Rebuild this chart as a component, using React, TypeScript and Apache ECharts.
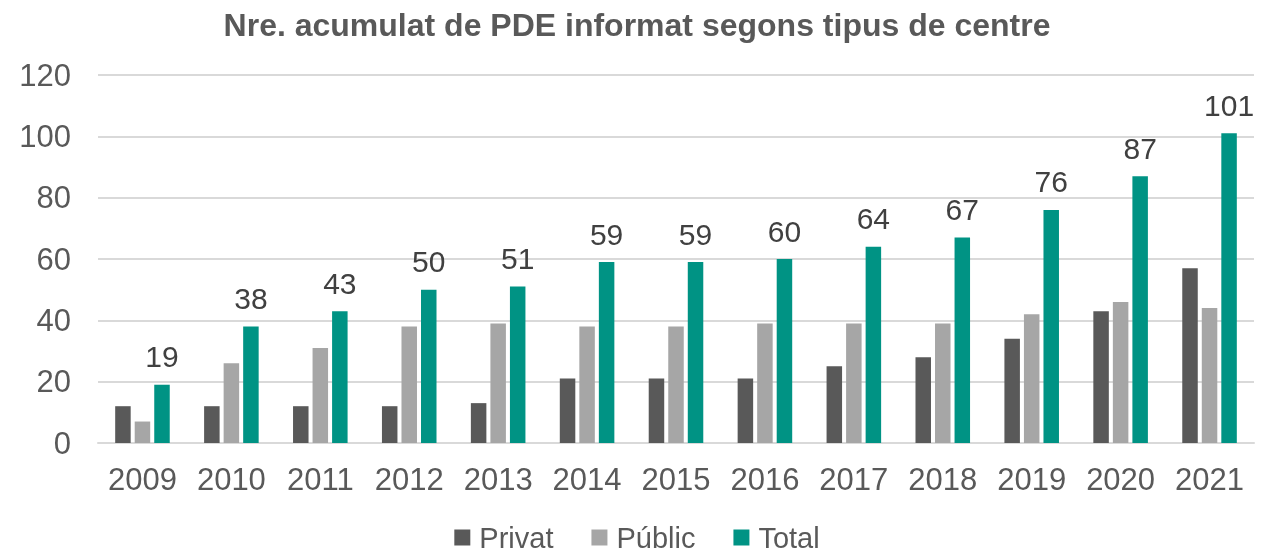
import React, { useEffect, useRef } from "react";
import * as echarts from "echarts";

const years = ["2009","2010","2011","2012","2013","2014","2015","2016","2017","2018","2019","2020","2021"];
const privat = [12, 12, 12, 12, 13, 21, 21, 21, 25, 28, 34, 43, 57];
const public_ = [7, 26, 31, 38, 39, 38, 38, 39, 39, 39, 42, 46, 44];
const total = [19, 38, 43, 50, 51, 59, 59, 60, 64, 67, 76, 87, 101];

export default function App() {
  const ref = useRef<HTMLDivElement>(null);
  useEffect(() => {
    const chart = echarts.init(ref.current!, null, { renderer: "svg" });
    const font = "Liberation Sans, Arial, sans-serif";
    chart.setOption({
      animation: false,
      textStyle: { fontFamily: font },
      title: {
        text: "Nre. acumulat de PDE informat segons tipus de centre",
        left: "center",
        top: 4,
        textStyle: { fontSize: 32, fontWeight: "bold", color: "#595959", fontFamily: font },
      },
      grid: { left: 98, right: 20, top: 75, bottom: 111 },
      legend: {
        top: 523,
        left: "center",
        padding: 0,
        itemWidth: 16,
        itemHeight: 16,
        itemGap: 38,
        icon: "rect",
        textStyle: { fontSize: 29, lineHeight: 24, color: "#595959", fontFamily: font, padding: [0, 0, 0, 4] },
        data: ["Privat", "Públic", "Total"],
      },
      xAxis: {
        type: "category",
        data: years,
        axisLine: { lineStyle: { color: "#d9d9d9", width: 2 } },
        axisTick: { show: false },
        axisLabel: { interval: 0, fontSize: 31, color: "#595959", margin: 21, fontFamily: font },
      },
      yAxis: {
        type: "value",
        min: 0,
        max: 120,
        interval: 20,
        axisLine: { show: false },
        axisTick: { show: false },
        axisLabel: { fontSize: 31, color: "#595959", margin: 27, fontFamily: font },
        splitLine: { lineStyle: { color: "#d9d9d9", width: 2 } },
      },
      series: [
        { name: "Privat", type: "bar", data: privat, barWidth: 15.5, barGap: "26%", itemStyle: { color: "#595959" } },
        { name: "Públic", type: "bar", data: public_, barWidth: 15.5, barGap: "26%", itemStyle: { color: "#a6a6a6" } },
        {
          name: "Total", type: "bar", data: total, barWidth: 15.5, barGap: "26%",
          itemStyle: { color: "#009384" },
          label: { show: true, position: "top", distance: 13, fontSize: 30, color: "#404040", fontFamily: font },
        },
      ],
    });
    return () => chart.dispose();
  }, []);
  return <div ref={ref} style={{ position: "fixed", left: 0, top: 0, width: 1274, height: 554 }} />;
}
